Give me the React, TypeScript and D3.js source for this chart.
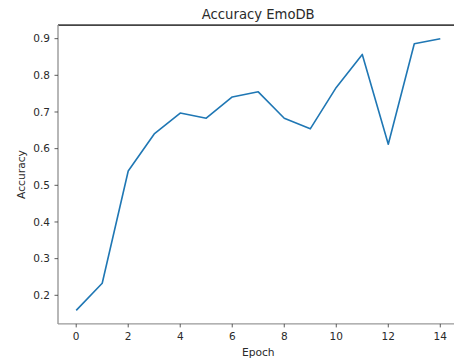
import React from "react";
import * as d3 from "d3";

const epochs = [0, 1, 2, 3, 4, 5, 6, 7, 8, 9, 10, 11, 12, 13, 14];
const accuracy = [0.159, 0.233, 0.539, 0.640, 0.697, 0.683, 0.741, 0.755, 0.683, 0.654, 0.767, 0.857, 0.612, 0.886, 0.900];
const xTicks = [0, 2, 4, 6, 8, 10, 12, 14];
const yTicks = [0.2, 0.3, 0.4, 0.5, 0.6, 0.7, 0.8, 0.9];

const W = 454;
const H = 362;
const left = 58;
const right = 458.5;
const top = 25.1;
const bottom = 323.9;
const font = "DejaVu Sans, sans-serif";
const textColor = "#2a2a2a";

export default function App() {
  const x = d3.scaleLinear().domain([-0.7, 14.7]).range([left, right]);
  const y = d3.scaleLinear().domain([0.122, 0.937]).range([bottom, top]);
  const line = d3
    .line<number>()
    .x((_, i) => x(epochs[i]))
    .y((d) => y(d));

  return (
    <svg
      width={W}
      height={H}
      style={{ position: "fixed", left: 0, top: 0, background: "#fff" }}
      fontFamily={font}
    >
      <rect x={0} y={0} width={W} height={H} fill="#fff" />
      <path d={line(accuracy) ?? ""} fill="none" stroke="#1f77b4" strokeWidth={1.6} strokeLinejoin="round" />
      {/* spines */}
      <line x1={left} x2={W} y1={top} y2={top} stroke="#444" strokeWidth={1.6} />
      <line x1={left} x2={left} y1={top} y2={bottom} stroke="#999" strokeWidth={1.4} />
      <line x1={left} x2={W} y1={bottom} y2={bottom} stroke="#999" strokeWidth={1.4} />
      {/* y ticks */}
      {yTicks.map((t) => (
        <g key={"y" + t}>
          <line x1={left - 3.5} x2={left} y1={y(t)} y2={y(t)} stroke="#333" strokeWidth={0.8} />
          <text x={left - 8} y={y(t)} dy="0.35em" textAnchor="end" fontSize={10.5} fill={textColor}>
            {t.toFixed(1)}
          </text>
        </g>
      ))}
      {/* x ticks */}
      {xTicks.map((t) => (
        <g key={"x" + t}>
          <line x1={x(t)} x2={x(t)} y1={bottom} y2={bottom + 3.5} stroke="#333" strokeWidth={0.8} />
          <text x={x(t)} y={bottom + 16.5} textAnchor="middle" fontSize={10.5} fill={textColor}>
            {t}
          </text>
        </g>
      ))}
      <text x={(left + right) / 2} y={355.5} textAnchor="middle" fontSize={10.7} fill={textColor}>
        Epoch
      </text>
      <text
        transform={`translate(25,${(top + bottom) / 2}) rotate(-90)`}
        textAnchor="middle"
        fontSize={10.7}
        fill={textColor}
      >
        Accuracy
      </text>
      <text x={(left + right) / 2} y={18.5} textAnchor="middle" fontSize={13.2} fill={textColor}>
        Accuracy EmoDB
      </text>
    </svg>
  );
}
